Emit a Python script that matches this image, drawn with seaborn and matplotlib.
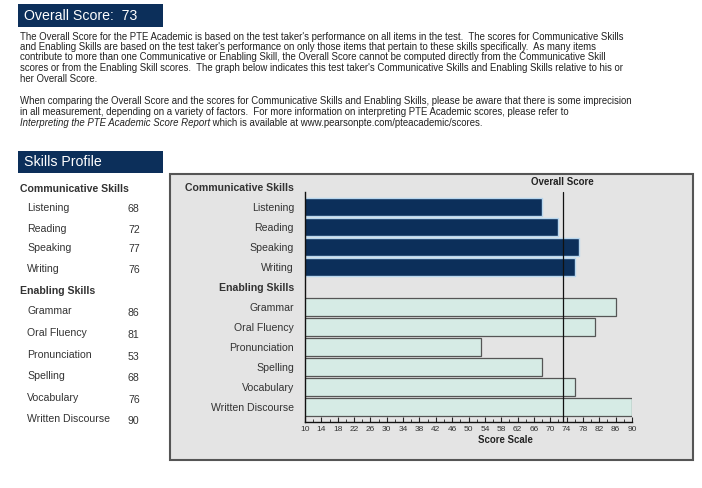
import matplotlib
matplotlib.use("Agg")
import matplotlib.pyplot as plt
import matplotlib.patches as mpatches
from matplotlib.ticker import MultipleLocator
import seaborn as sns
import pandas as pd

# ---------------- data ----------------
overall_score = 73
comm_skills = ["Listening", "Reading", "Speaking", "Writing"]
comm_scores = [68, 72, 77, 76]
enab_skills = ["Grammar", "Oral Fluency", "Pronunciation", "Spelling", "Vocabulary", "Written Discourse"]
enab_scores = [86, 81, 53, 68, 76, 90]
comm_header = "Communicative Skills"
enab_header = "Enabling Skills"
x_ticks = list(range(10, 91, 4))

para1 = [
    "The Overall Score for the PTE Academic is based on the test taker's performance on all items in the test.  The scores for Communicative Skills",
    "and Enabling Skills are based on the test taker's performance on only those items that pertain to these skills specifically.  As many items",
    "contribute to more than one Communicative or Enabling Skill, the Overall Score cannot be computed directly from the Communicative Skill",
    "scores or from the Enabling Skill scores.  The graph below indicates this test taker's Communicative Skills and Enabling Skills relative to his or",
    "her Overall Score.",
]
para2 = [
    "When comparing the Overall Score and the scores for Communicative Skills and Enabling Skills, please be aware that there is some imprecision",
    "in all measurement, depending on a variety of factors.  For more information on interpreting PTE Academic scores, please refer to",
]
para2_italic = "Interpreting the PTE Academic Score Report"
para2_tail = " which is available at www.pearsonpte.com/pteacademic/scores."

# ---------------- style ----------------
sns.set_theme(style="white")
plt.rcParams["font.family"] = ["Liberation Sans", "DejaVu Sans"]

W, H = 702, 488
NAVY = "#0c2f5a"
MINT = "#d6ebe5"
TXT = "#222222"
LBL = "#333333"
PFS = 6.9    # paragraph font size
LFS = 7.6    # list / label font size

fig = plt.figure(figsize=(W / 100, H / 100), dpi=100)
fig.patch.set_facecolor("white")

def fx(x):
    return x / W

def fy(y):
    return 1 - y / H

# header boxes
for (x0, y0, x1, y1, label) in [(18, 4, 163, 27, f"Overall Score:  {overall_score}"),
                                (18, 151, 163, 173, "Skills Profile")]:
    fig.patches.append(mpatches.Rectangle((fx(x0), fy(y1)), fx(x1) - fx(x0), fy(y0) - fy(y1),
                                          transform=fig.transFigure, facecolor=NAVY,
                                          edgecolor="none", zorder=0.5))
    fig.text(fx(24), fy((y0 + y1) / 2 + 0.5), label, color="white", fontsize=10.2,
             va="center", ha="left", zorder=2)

# paragraphs
ys1 = [37, 47, 57, 68, 79]
for t, y in zip(para1, ys1):
    fig.text(fx(20), fy(y), t, fontsize=PFS, color=TXT, va="center", ha="left")
ys2 = [101, 112]
for t, y in zip(para2, ys2):
    fig.text(fx(20), fy(y), t, fontsize=PFS, color=TXT, va="center", ha="left")
it = fig.text(fx(20), fy(123), para2_italic, fontsize=PFS, color=TXT, va="center",
              ha="left", style="italic")
fig.canvas.draw()
bb = it.get_window_extent(renderer=fig.canvas.get_renderer())
fig.text(bb.x1 / W, fy(123), para2_tail, fontsize=PFS, color=TXT, va="center", ha="left")

# left list
fig.text(fx(20), fy(189), comm_header, fontsize=LFS, weight="bold", color=LBL, va="center")
for s, v, y in zip(comm_skills, comm_scores, [208, 229, 248, 269]):
    fig.text(fx(27), fy(y), s, fontsize=LFS, color=LBL, va="center")
    fig.text(fx(128), fy(y + 1), str(v), fontsize=LFS, color=LBL, va="center")
fig.text(fx(20), fy(291), enab_header, fontsize=LFS, weight="bold", color=LBL, va="center")
for s, v, y in zip(enab_skills, enab_scores, [311, 333, 355, 376, 398, 419]):
    fig.text(fx(27), fy(y), s, fontsize=LFS, color=LBL, va="center")
    fig.text(fx(128), fy(y + 2), str(v), fontsize=LFS, color=LBL, va="center")

# chart frame
fig.patches.append(mpatches.Rectangle((fx(170), fy(460)), fx(693) - fx(170), fy(174) - fy(460),
                                      transform=fig.transFigure, facecolor="#e4e4e4",
                                      edgecolor="#555555", linewidth=1.5, zorder=-1))

# ---------------- bar chart ----------------
rows = [comm_header] + comm_skills + [enab_header] + enab_skills
df = pd.DataFrame({
    "skill": comm_skills + enab_skills,
    "score": comm_scores + enab_scores,
    "group": ["Communicative"] * len(comm_skills) + ["Enabling"] * len(enab_skills),
})

ax_left, ax_right, ax_top, ax_bot = 305, 632, 177, 422
ax = fig.add_axes([fx(ax_left), fy(ax_bot), fx(ax_right) - fx(ax_left), fy(ax_top) - fy(ax_bot)])
ax.set_facecolor("none")
ax.set_zorder(3)

sns.barplot(data=df, x="score", y="skill", order=rows, hue="group",
            palette={"Communicative": NAVY, "Enabling": MINT}, dodge=False,
            width=0.88, saturation=1, legend=False, orient="h", ax=ax)

for p in ax.patches:
    fc = p.get_facecolor()
    if fc[0] < 0.3:
        p.set_edgecolor("#b9d7ee")
        p.set_linewidth(1.0)
    else:
        p.set_edgecolor("#555555")
        p.set_linewidth(0.9)

ax.set_xlim(10, 90)
ax.set_ylim(11.75, -0.5)
ax.set_xlabel("")
ax.set_ylabel("")

ax.set_yticks(range(len(rows)))
ax.set_yticklabels(rows)
for lbl in ax.get_yticklabels():
    lbl.set_fontsize(LFS)
    lbl.set_color(LBL)
    if lbl.get_text() in (comm_header, enab_header):
        lbl.set_fontweight("bold")
ax.tick_params(axis="y", length=0, pad=8)

ax.set_xticks(x_ticks)
ax.set_xticklabels([str(t) for t in x_ticks])
ax.xaxis.set_minor_locator(MultipleLocator(2))
ax.tick_params(axis="x", which="major", direction="in", length=3.5, width=0.8,
               labelsize=6, labelcolor=LBL, color="#222222", pad=3, bottom=True)
ax.tick_params(axis="x", which="minor", direction="in", length=2, width=0.6,
               color="#222222", bottom=True)

for side in ("top", "right"):
    ax.spines[side].set_visible(False)
for side in ("left", "bottom"):
    ax.spines[side].set_visible(True)
    ax.spines[side].set_color("#111111")
    ax.spines[side].set_linewidth(1.0)
ax.spines["left"].set_bounds(0.25, 11.75)

ax.plot([overall_score, overall_score], [0.25, 11.75], color="#111111", lw=0.9,
        zorder=5, clip_on=False)
ax.text(overall_score, -0.25, "Overall Score", fontsize=7, weight="bold",
        color="#222222", ha="center", va="center", clip_on=False)

fig.text(fx(505), fy(440), "Score Scale", fontsize=6.9, weight="bold", color="#222222",
         ha="center", va="center", zorder=4)

fig.savefig("out.png", dpi=100)
